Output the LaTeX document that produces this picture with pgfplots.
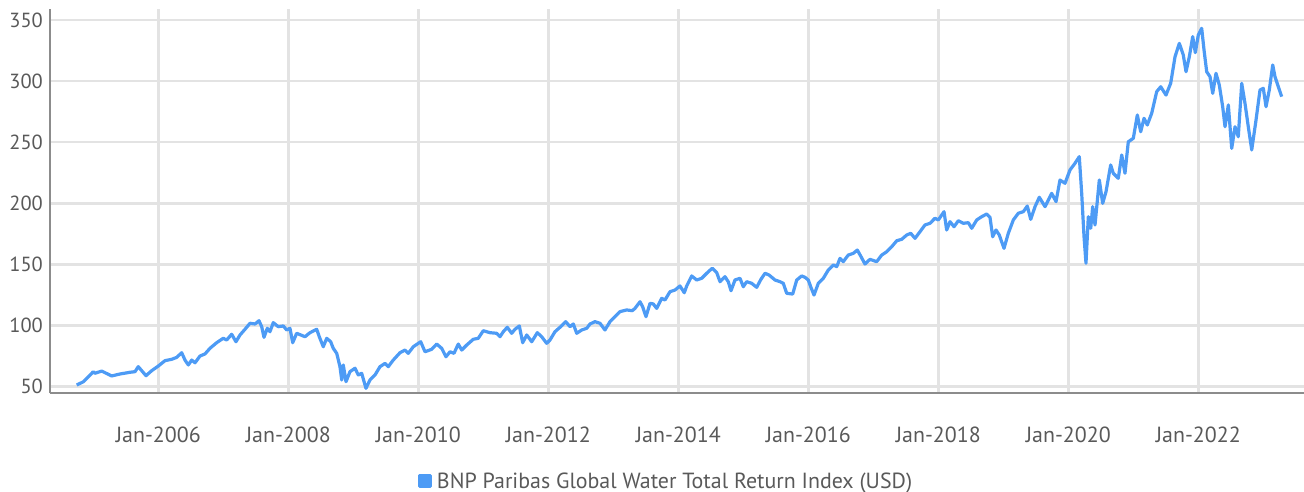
\documentclass[border=0pt]{standalone}
\usepackage{fontspec}
\setmainfont{PT Sans}
\usepackage{pgfplots}
\pgfplotsset{compat=1.18}
\definecolor{lineblue}{HTML}{4D9BF5}
\definecolor{gridgray}{HTML}{E3E3E3}
\definecolor{axisgray}{HTML}{8C8C8C}
\definecolor{textgray}{HTML}{595959}
\pgfplotstableread{
t v
2004.745 51.4
2004.846 54.0
2004.923 58.0
2005.000 62.3
2005.026 61.0
2005.129 62.8
2005.283 58.8
2005.411 60.4
2005.565 61.8
2005.642 62.3
2005.692 66.4
2005.745 63.1
2005.811 59.0
2005.898 63.1
2006.000 66.9
2006.103 71.3
2006.206 72.4
2006.283 74.0
2006.360 77.8
2006.411 71.8
2006.462 67.8
2006.514 71.8
2006.565 69.6
2006.642 75.1
2006.718 76.8
2006.795 81.4
2006.898 86.0
2007.000 89.6
2007.052 88.2
2007.129 92.9
2007.195 86.8
2007.257 92.3
2007.334 97.0
2007.411 101.9
2007.488 101.3
2007.549 104.0
2007.591 99.1
2007.626 90.4
2007.677 97.8
2007.718 95.0
2007.769 102.4
2007.846 99.1
2007.923 99.7
2007.975 96.4
2008.026 97.8
2008.068 86.0
2008.129 93.7
2008.257 90.9
2008.334 94.2
2008.437 97.0
2008.477 90.9
2008.538 82.7
2008.591 89.6
2008.652 86.8
2008.692 81.4
2008.745 77.3
2008.795 66.4
2008.822 55.5
2008.846 67.8
2008.888 54.1
2008.949 62.3
2009.026 65.1
2009.077 59.6
2009.129 61.0
2009.195 48.7
2009.257 55.5
2009.334 59.6
2009.411 66.4
2009.488 69.1
2009.538 66.4
2009.615 71.8
2009.718 77.8
2009.795 80.0
2009.846 77.3
2009.923 82.7
2010.037 86.8
2010.103 78.6
2010.206 80.6
2010.283 84.9
2010.360 81.4
2010.426 74.5
2010.488 78.6
2010.549 77.3
2010.615 84.9
2010.668 80.0
2010.745 84.1
2010.846 88.8
2010.923 89.6
2011.000 95.8
2011.103 94.2
2011.206 93.7
2011.257 90.9
2011.308 95.0
2011.369 98.6
2011.437 93.7
2011.488 97.0
2011.554 99.7
2011.606 86.0
2011.668 92.3
2011.745 86.8
2011.831 94.2
2011.898 90.9
2011.975 85.5
2012.026 88.2
2012.103 95.0
2012.180 98.6
2012.268 103.2
2012.334 99.1
2012.385 101.3
2012.437 93.7
2012.514 96.4
2012.591 97.8
2012.642 101.3
2012.718 103.2
2012.795 101.9
2012.872 96.4
2012.949 103.2
2013.026 107.3
2013.103 111.4
2013.206 112.8
2013.292 112.2
2013.334 114.1
2013.411 119.5
2013.452 115.4
2013.503 107.3
2013.565 118.2
2013.615 117.7
2013.668 114.1
2013.745 122.3
2013.795 120.9
2013.872 127.7
2013.949 129.1
2014.026 132.4
2014.092 126.9
2014.129 132.4
2014.206 140.6
2014.283 137.3
2014.360 138.7
2014.462 144.1
2014.523 146.9
2014.591 143.3
2014.642 135.9
2014.718 140.0
2014.769 135.9
2014.811 128.5
2014.872 137.3
2014.949 138.7
2015.000 131.8
2015.052 135.9
2015.129 134.6
2015.206 131.3
2015.272 137.9
2015.334 142.8
2015.395 141.4
2015.488 137.3
2015.565 135.9
2015.615 134.6
2015.668 126.4
2015.760 125.8
2015.822 137.3
2015.898 140.6
2015.949 139.5
2016.000 137.3
2016.037 131.8
2016.088 125.0
2016.154 134.6
2016.231 138.7
2016.308 145.5
2016.385 149.6
2016.437 148.2
2016.488 155.0
2016.538 152.3
2016.615 157.7
2016.692 159.1
2016.754 161.8
2016.806 156.9
2016.872 150.4
2016.949 154.2
2017.052 152.3
2017.129 157.7
2017.206 160.4
2017.283 164.5
2017.360 169.4
2017.437 170.6
2017.514 174.1
2017.575 175.5
2017.642 171.4
2017.718 176.8
2017.795 182.3
2017.872 183.7
2017.949 187.8
2018.000 186.4
2018.088 193.2
2018.129 178.2
2018.180 185.0
2018.242 180.9
2018.308 185.8
2018.385 183.7
2018.462 184.2
2018.514 179.6
2018.591 186.4
2018.668 189.1
2018.745 191.3
2018.795 188.6
2018.837 172.7
2018.888 178.2
2018.938 174.1
2019.011 163.2
2019.077 175.5
2019.154 186.4
2019.231 191.9
2019.308 193.2
2019.369 197.8
2019.422 186.9
2019.488 197.3
2019.554 205.0
2019.642 197.3
2019.745 208.2
2019.811 201.4
2019.872 219.1
2019.949 216.4
2020.026 227.3
2020.103 232.8
2020.169 238.2
2020.206 208.2
2020.242 172.7
2020.272 151.0
2020.308 189.1
2020.345 179.6
2020.375 197.3
2020.411 182.3
2020.477 219.1
2020.529 200.0
2020.580 209.5
2020.652 231.4
2020.692 224.6
2020.769 220.5
2020.822 239.6
2020.872 224.6
2020.923 250.4
2021.000 253.2
2021.062 272.3
2021.114 258.6
2021.165 269.6
2021.215 264.1
2021.283 273.7
2021.360 291.4
2021.422 295.4
2021.503 288.6
2021.575 298.2
2021.642 320.0
2021.708 330.9
2021.769 321.4
2021.811 307.7
2021.862 320.0
2021.914 336.4
2021.954 323.3
2022.000 337.7
2022.052 343.2
2022.088 325.5
2022.129 307.7
2022.180 303.6
2022.222 290.0
2022.272 306.4
2022.323 296.8
2022.375 279.1
2022.411 262.7
2022.462 280.5
2022.514 245.0
2022.565 262.7
2022.615 254.5
2022.668 298.2
2022.718 281.9
2022.769 262.7
2022.822 243.7
2022.888 268.2
2022.949 292.7
2023.000 294.1
2023.042 279.1
2023.092 292.7
2023.145 313.2
2023.180 303.6
2023.231 295.4
2023.283 287.3
}\datatable
\begin{document}
\begin{tikzpicture}
\useasboundingbox (-50bp,-99bp) rectangle (1254bp,393bp);
\begin{axis}[
  at={(0,0)}, anchor=south west,
  width=1254bp, height=383.5bp, scale only axis,
  xmin=2004.334, xmax=2023.626, ymin=44.85, ymax=358.6,
  axis x line*=bottom, axis y line*=left,
  axis line style={draw=axisgray, line width=2bp},
  xtick={2006,2008,2010,2012,2014,2016,2018,2020,2022},
  xticklabels={Jan-2006,Jan-2008,Jan-2010,Jan-2012,Jan-2014,Jan-2016,Jan-2018,Jan-2020,Jan-2022},
  ytick={50,100,150,200,250,300,350},
  grid=major,
  major grid style={draw=gridgray, line width=2.5bp},
  major tick length=0pt,
  /pgf/number format/assume math mode=true,
  tick label style={text=textgray, inner sep=0pt},
  xticklabel style={font=\fontsize{22}{25}\selectfont, anchor=north, yshift=-34bp},
  yticklabel style={font=\fontsize{20.5}{24}\selectfont, anchor=east, xshift=-7bp},
  legend style={at={(0.4904,-0.2295)}, anchor=center, draw=none, fill=none,
    font=\fontsize{22}{25}\selectfont, text=textgray, inner sep=0pt,
    nodes={inner sep=0pt},
    /tikz/every odd column/.append style={column sep=5bp}},
  legend cell align=left,
]
\addplot[draw=lineblue, line width=3.2bp, line join=round,
  legend image code/.code={\fill[lineblue] (0bp,-5.5bp) rectangle (11bp,5.5bp);}]
  table[x=t, y=v] {\datatable};
\addlegendentry{BNP Paribas Global Water Total Return Index (USD)}
\end{axis}
\end{tikzpicture}
\end{document}
